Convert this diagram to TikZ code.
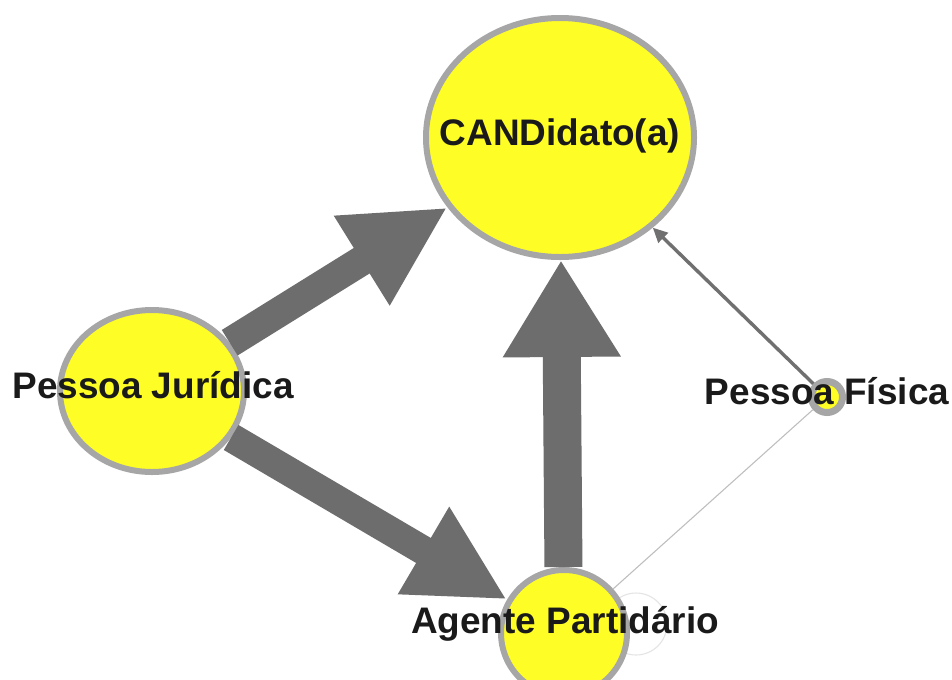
\documentclass[tikz,border=0pt]{standalone}
\usepackage{fontspec}
\setmainfont{Liberation Sans}
\usetikzlibrary{shapes.geometric,arrows.meta}
\definecolor{nodefill}{RGB}{255,253,38}
\definecolor{nodeborder}{RGB}{166,166,166}
\definecolor{edgegray}{RGB}{109,109,109}
\definecolor{midgray}{RGB}{112,112,112}
\definecolor{thingray}{RGB}{190,190,190}
\definecolor{loopgray}{RGB}{228,228,228}
\definecolor{txt}{RGB}{26,26,26}
\tikzset{
  vtx/.style={ellipse, draw=nodeborder, fill=nodefill, line width=6*0.75pt, inner sep=0pt},
  lbl/.style={anchor=base, text=txt, font=\fontsize{27.7}{30}\selectfont\bfseries, inner sep=0pt},
  bigarrow/.style={draw=edgegray, fill=edgegray, line width=#1},
  midarrow/.style={draw=midgray, line width=3.4*0.75pt, -{Triangle[length=11pt,width=10pt]}},
  thinline/.style={draw=thingray, line width=0.8pt},
  loopline/.style={draw=loopgray, line width=0.8pt}
}
\begin{document}
\begin{tikzpicture}[x=0.75pt,y=-0.75pt]
\useasboundingbox (0,0) rectangle (952,679);
\fill[white] (0,0) rectangle (952,679);
% self loop on Agente Partidario (drawn behind the node)
\coordinate (loopc) at (636,624);
\draw[loopline] (loopc) circle[radius=31*0.75pt];
% nodes
\node[vtx, minimum width=268*0.75pt, minimum height=239*0.75pt] (cand) at (560,137.5) {};
\node[vtx, minimum width=184*0.75pt, minimum height=162*0.75pt] (pj) at (152,391) {};
\node[vtx, minimum width=126*0.75pt, minimum height=126*0.75pt] (ag) at (564,633) {};
\node[vtx, line width=7*0.75pt, minimum width=31*0.75pt, minimum height=31*0.75pt] (pf) at (827,397) {};
% edges
\draw[bigarrow=30*0.75pt, -{Triangle[length=101*0.75pt,width=98*0.75pt]}] (pj) -- (cand);
\draw[bigarrow=29*0.75pt, -{Triangle[length=97*0.75pt,width=94*0.75pt]}] (pj) -- (ag);
\draw[bigarrow=38*0.75pt, -{Triangle[length=97*0.75pt,width=111*0.75pt]}] (ag) -- (cand);
\draw[midarrow] (pf) -- (cand);
\draw[thinline] (pf) -- (ag);
% labels
\node[lbl] (candlbl) at (560,145) {CANDidato(a)};
\node[lbl] (pjlbl) at (153,398) {Pessoa Jurídica};
\node[lbl] (aglbl) at (565,633) {Agente Partidário};
\node[lbl] (pflbl) at (827,404) {Pessoa Física};
\end{tikzpicture}
\end{document}
